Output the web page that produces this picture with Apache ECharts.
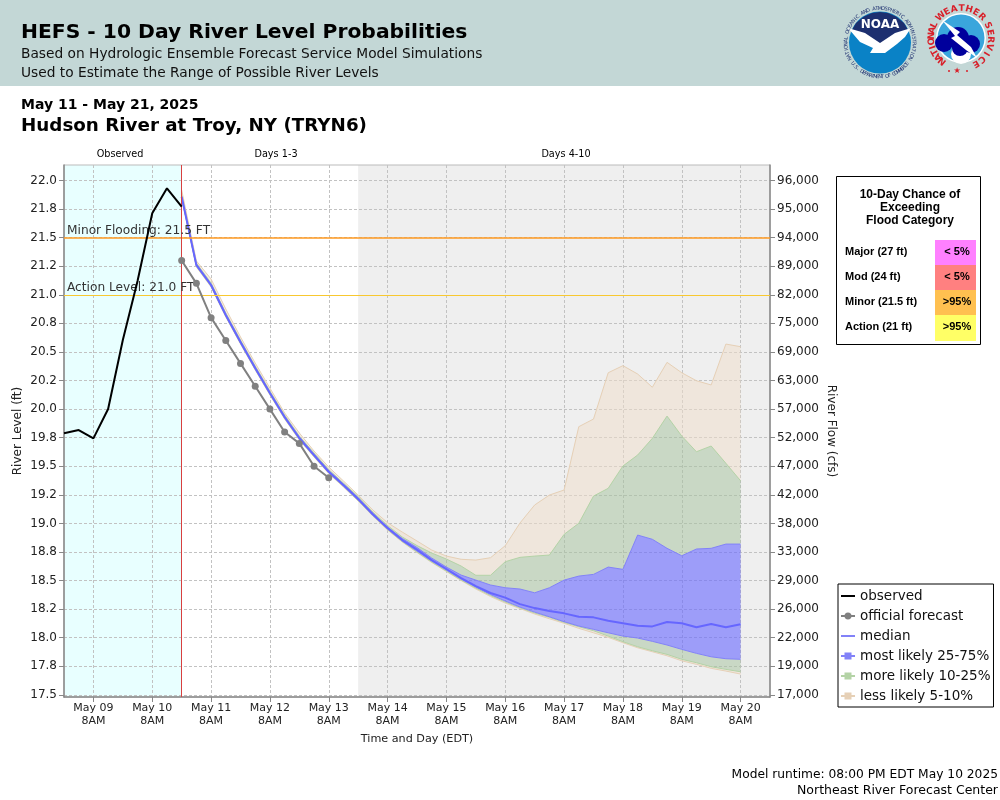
<!DOCTYPE html>
<html>
<head>
<meta charset="utf-8">
<title>HEFS - 10 Day River Level Probabilities</title>
<script src="https://cdn.jsdelivr.net/npm/echarts@6/dist/echarts.min.js"></script>
<style>
html, body { margin: 0; padding: 0; background: #fff; }
#main { width: 1000px; height: 800px; }
</style>
</head>
<body>
<div id="main"></div>
<script>
// hours are counted from May 09 8AM, one category every 6 hours
var hourCategories = ['-12', '-6', '0', '6', '12', '18', '24', '30', '36', '42', '48', '54', '60', '66', '72', '78', '84', '90', '96', '102', '108', '114', '120', '126', '132', '138', '144', '150', '156', '162', '168', '174', '180', '186', '192', '198', '204', '210', '216', '222', '228', '234', '240', '246', '252', '258', '264', '270', '276'];
var tickHours = ['0', '24', '48', '72', '96', '120', '144', '168', '192', '216', '240', '264'];
var tickDays = ['May 09', 'May 10', 'May 11', 'May 12', 'May 13', 'May 14', 'May 15', 'May 16', 'May 17', 'May 18', 'May 19', 'May 20'];

var levelTicks = [17.5, 17.75, 18, 18.25, 18.5, 18.75, 19, 19.25, 19.5, 19.75, 20, 20.25, 20.5, 20.75, 21, 21.25, 21.5, 21.75, 22];
var levelLabels = ['17.5', '17.8', '18.0', '18.2', '18.5', '18.8', '19.0', '19.2', '19.5', '19.8', '20.0', '20.2', '20.5', '20.8', '21.0', '21.2', '21.5', '21.8', '22.0'];
var flowLabels = ['17,000', '19,000', '22,000', '26,000', '29,000', '33,000', '38,000', '42,000', '47,000', '52,000', '57,000', '63,000', '69,000', '75,000', '82,000', '89,000', '94,000', '95,000', '96,000'];

var observedHours = ['-12', '-6', '0', '6', '12', '18', '24', '30', '36'];
var observed = [19.788, 19.817, 19.744, 20.001, 20.604, 21.121, 21.713, 21.932, 21.771];

var officialHours = ['36', '42', '48', '54', '60', '66', '72', '78', '84', '90', '96'];
var official = [21.3, 21.1, 20.8, 20.6, 20.4, 20.2, 20.0, 19.8, 19.7, 19.5, 19.4];

var ensembleHours = ['36', '42', '48', '54', '60', '66', '72', '78', '84', '90', '96', '102', '108', '114', '120', '126', '132', '138', '144', '150', '156', '162', '168', '174', '180', '186', '192', '198', '204', '210', '216', '222', '228', '234', '240', '246', '252', '258', '264'];
var median = [21.858, 21.261, 21.086, 20.823, 20.587, 20.359, 20.141, 19.931, 19.747, 19.598, 19.452, 19.336, 19.213, 19.078, 18.959, 18.854, 18.771, 18.679, 18.601, 18.522, 18.452, 18.391, 18.351, 18.294, 18.259, 18.233, 18.213, 18.183, 18.178, 18.148, 18.126, 18.105, 18.099, 18.137, 18.126, 18.091, 18.119, 18.091, 18.117];
var p5 = [21.847, 21.243, 21.068, 20.806, 20.569, 20.342, 20.123, 19.913, 19.729, 19.581, 19.436, 19.318, 19.196, 19.064, 18.942, 18.837, 18.745, 18.658, 18.579, 18.500, 18.426, 18.360, 18.303, 18.255, 18.207, 18.166, 18.126, 18.082, 18.043, 18.003, 17.956, 17.912, 17.877, 17.842, 17.798, 17.767, 17.732, 17.708, 17.682];
var p10 = [21.849, 21.248, 21.073, 20.810, 20.574, 20.346, 20.128, 19.918, 19.734, 19.585, 19.441, 19.323, 19.200, 19.069, 18.946, 18.841, 18.749, 18.662, 18.583, 18.504, 18.434, 18.369, 18.312, 18.262, 18.216, 18.178, 18.134, 18.096, 18.061, 18.014, 17.965, 17.921, 17.886, 17.854, 17.811, 17.781, 17.746, 17.723, 17.702];
var p25 = [21.851, 21.252, 21.077, 20.814, 20.578, 20.351, 20.132, 19.922, 19.738, 19.589, 19.443, 19.327, 19.204, 19.073, 18.951, 18.846, 18.758, 18.671, 18.592, 18.513, 18.443, 18.378, 18.321, 18.268, 18.224, 18.183, 18.140, 18.102, 18.073, 18.043, 18.014, 17.997, 17.968, 17.936, 17.898, 17.863, 17.833, 17.816, 17.811];
var p75 = [21.869, 21.269, 21.094, 20.832, 20.596, 20.368, 20.149, 19.939, 19.756, 19.607, 19.463, 19.344, 19.226, 19.091, 18.968, 18.868, 18.789, 18.697, 18.618, 18.548, 18.504, 18.461, 18.437, 18.426, 18.393, 18.437, 18.504, 18.539, 18.554, 18.618, 18.598, 18.898, 18.861, 18.782, 18.717, 18.776, 18.782, 18.819, 18.819];
var p90 = [21.891, 21.278, 21.103, 20.841, 20.604, 20.377, 20.158, 19.948, 19.764, 19.616, 19.471, 19.353, 19.235, 19.099, 18.981, 18.881, 18.806, 18.741, 18.688, 18.627, 18.546, 18.546, 18.665, 18.703, 18.714, 18.723, 18.904, 19.001, 19.239, 19.307, 19.502, 19.598, 19.744, 19.939, 19.764, 19.627, 19.677, 19.526, 19.373];
var p95 = [21.917, 21.296, 21.138, 20.876, 20.631, 20.403, 20.184, 19.966, 19.791, 19.633, 19.493, 19.371, 19.248, 19.117, 19.006, 18.924, 18.846, 18.767, 18.714, 18.686, 18.679, 18.700, 18.805, 19.003, 19.161, 19.248, 19.292, 19.846, 19.913, 20.318, 20.380, 20.307, 20.191, 20.409, 20.318, 20.248, 20.211, 20.569, 20.546];

var floodNames = ['Major (27 ft)', 'Mod (24 ft)', 'Minor (21.5 ft)', 'Action (21 ft)'];
var floodChance = ['< 5%', '< 5%', '>95%', '>95%'];
var floodColors = ['#ff80ff', '#ff8080', '#ffc050', '#ffff66'];

var minorLevel = 21.5;
var actionLevel = 21.0;
var observedEnd = '36';
var shortRangeEnd = '108';

var FONT = 'DejaVu Sans';
var TICK_TEXT = '#222';
var GRID_LINE = { color: '#c2c2c2', type: [3, 2], width: 1 };

function pairs(xs, ys) {
	return xs.map(function(x, i) { return [x, ys[i]]; });
}

function isDayTick(index, value) {
	return tickHours.indexOf(value) >= 0;
}

// stacked piece between two percentile curves
function band(name, lower, upper, fill, edge) {
	return {
		name: name,
		type: 'line',
		stack: 'ensemble',
		symbol: 'none',
		silent: true,
		z: 3,
		lineStyle: { color: edge, width: 1 },
		itemStyle: { color: edge },
		areaStyle: { color: fill, opacity: 1 },
		data: pairs(ensembleHours, upper.map(function(v, i) { return +(v - lower[i]).toFixed(3); }))
	};
}

var TAN_FILL = 'rgba(239,221,201,0.5)', TAN_EDGE = '#e6d0b6';
var GREEN_FILL = 'rgba(163,193,155,0.5)', GREEN_EDGE = '#b4d3a6';
var BLUE_FILL = 'rgba(102,102,255,0.6)', BLUE_EDGE = '#8282f8';

var series = [
	{
		name: 'background',
		type: 'line',
		z: -1,
		silent: true,
		data: [],
		markArea: {
			z: -1,
			silent: true,
			data: [
				[{ xAxis: hourCategories[0], itemStyle: { color: '#e8ffff' } }, { xAxis: observedEnd }],
				[{ xAxis: shortRangeEnd, itemStyle: { color: '#efefef' } }, { xAxis: hourCategories[hourCategories.length - 1] }]
			]
		}
	},
	{
		name: 'levels',
		type: 'line',
		z: 2,
		silent: true,
		data: [],
		markLine: {
			silent: true,
			symbol: 'none',
			animation: false,
			data: [
				{ yAxis: minorLevel, lineStyle: { color: '#ff9a20', width: 1.5, type: 'solid' },
					label: { formatter: 'Minor Flooding: 21.5 FT', position: 'insideStartTop', distance: [3, 1], color: '#333', fontFamily: FONT, fontSize: 12.2 } },
				{ yAxis: actionLevel, lineStyle: { color: '#f8c830', width: 1, type: 'solid' },
					label: { formatter: 'Action Level: 21.0 FT', position: 'insideStartTop', distance: [3, 1], color: '#333', fontFamily: FONT, fontSize: 12.2 } },
				{ xAxis: observedEnd, lineStyle: { color: '#d84040', width: 1, type: 'solid' }, label: { show: false } }
			]
		}
	},
	{
		name: 'base',
		type: 'line',
		stack: 'ensemble',
		symbol: 'none',
		silent: true,
		z: 3,
		lineStyle: { color: TAN_EDGE, width: 1 },
		data: pairs(ensembleHours, p5)
	},
	band('less likely 5-10%', p5, p10, TAN_FILL, GREEN_EDGE),
	band('more likely 10-25%', p10, p25, GREEN_FILL, BLUE_EDGE),
	band('most likely 25-75%', p25, p75, BLUE_FILL, BLUE_EDGE),
	band('more likely 10-25%', p75, p90, GREEN_FILL, GREEN_EDGE),
	band('less likely 5-10%', p90, p95, TAN_FILL, TAN_EDGE),
	{
		name: 'median',
		type: 'line',
		symbol: 'none',
		z: 4,
		lineStyle: { color: '#6666ff', width: 2 },
		itemStyle: { color: '#6666ff' },
		data: pairs(ensembleHours, median)
	},
	{
		name: 'official forecast',
		type: 'line',
		symbol: 'circle',
		symbolSize: 7,
		z: 5,
		lineStyle: { color: '#808080', width: 2 },
		itemStyle: { color: '#808080' },
		data: pairs(officialHours, official)
	},
	{
		name: 'observed',
		type: 'line',
		symbol: 'none',
		z: 5,
		lineStyle: { color: '#000', width: 2 },
		itemStyle: { color: '#000' },
		data: pairs(observedHours, observed)
	}
];

// tiny corner dots keep the icon box, so a plain line does not get stretched
var ICON_BOX = 'M0 0h.01v.01h-.01z M14 14h.01v.01h-.01z ';
var ICON_LINE = 'M0 6h14v2H0z';
var legendData = [
	{ name: 'observed', icon: 'path://' + ICON_BOX + ICON_LINE, itemStyle: { color: '#000' } },
	{ name: 'official forecast', icon: 'path://' + ICON_BOX + ICON_LINE + ' M7 3.5a3.5 3.5 0 1 1 -.01 0z', itemStyle: { color: '#808080' } },
	{ name: 'median', icon: 'path://' + ICON_BOX + ICON_LINE, itemStyle: { color: '#8282f8' } },
	{ name: 'most likely 25-75%', icon: 'path://' + ICON_BOX + ICON_LINE + ' M3.5 3.5h7v7h-7z', itemStyle: { color: '#8282f8' } },
	{ name: 'more likely 10-25%', icon: 'path://' + ICON_BOX + ICON_LINE + ' M3.5 3.5h7v7h-7z', itemStyle: { color: '#b4d3a6' } },
	{ name: 'less likely 5-10%', icon: 'path://' + ICON_BOX + ICON_LINE + ' M3.5 3.5h7v7h-7z', itemStyle: { color: '#e6d0b6' } }
];

function text(str, x, y, size, opts) {
	opts = opts || {};
	return {
		type: 'text',
		x: x,
		y: y,
		rotation: opts.rotation || 0,
		silent: true,
		z: opts.z || 20,
		style: {
			text: str,
			fill: opts.color || '#000',
			font: (opts.bold ? 'bold ' : '') + size + 'px "' + (opts.family || FONT) + '"',
			textAlign: opts.align || 'left',
			textVerticalAlign: 'middle'
		}
	};
}

// one letter at a time round a circle, angles in degrees clockwise from the top
function ringText(str, cx, cy, r, fromDeg, toDeg, size, color, bold, lower) {
	var out = [];
	for (var i = 0; i < str.length; i++) {
		var deg = fromDeg + (toDeg - fromDeg) * i / (str.length - 1);
		var a = deg * Math.PI / 180;
		out.push(text(str.charAt(i), cx + r * Math.sin(a), cy - r * Math.cos(a), size, {
			color: color,
			bold: bold,
			align: 'center',
			rotation: lower ? Math.PI - a : -a
		}));
	}
	return out;
}

function shape(type, shapeDef, fill, z) {
	return { type: type, silent: true, z: z || 10, shape: shapeDef, style: { fill: fill } };
}

var graphics = [
	shape('rect', { x: 0, y: 0, width: 1000, height: 86 }, '#c3d7d6', 1),
	text('HEFS - 10 Day River Level Probabilities', 21, 33, 20.3, { bold: true }),
	text('Based on Hydrologic Ensemble Forecast Service Model Simulations', 21, 54, 13.75, { color: '#111' }),
	text('Used to Estimate the Range of Possible River Levels', 21, 73, 13.75, { color: '#111' }),
	text('May 11 - May 21, 2025', 21, 105, 14, { bold: true }),
	text('Hudson River at Troy, NY (TRYN6)', 21, 126, 18.3, { bold: true }),
	text('Observed', 120, 154, 9.7, { align: 'center' }),
	text('Days 1-3', 276, 154, 9.7, { align: 'center' }),
	text('Days 4-10', 566, 154, 9.7, { align: 'center' }),
	text('Model runtime: 08:00 PM EDT May 10 2025', 998, 775, 12.25, { align: 'right' }),
	text('Northeast River Forecast Center', 998, 791, 12.5, { align: 'right' }),

	// flood category table
	{ type: 'rect', silent: true, z: 10, shape: { x: 836.5, y: 176.5, width: 144, height: 168 }, style: { fill: '#fff', stroke: '#000', lineWidth: 1 } },
	text('10-Day Chance of', 910, 195, 12, { bold: true, align: 'center', family: 'Liberation Sans' }),
	text('Exceeding', 910, 208, 12, { bold: true, align: 'center', family: 'Liberation Sans' }),
	text('Flood Category', 910, 221, 12, { bold: true, align: 'center', family: 'Liberation Sans' })
];

floodNames.forEach(function(name, i) {
	var top = 240 + i * 25;
	graphics.push(shape('rect', { x: 935, y: top, width: 41, height: i === 3 ? 26 : 25 }, floodColors[i], 11));
	graphics.push(text(name, 845, top + 11.5, 11, { bold: true, family: 'Liberation Sans' }));
	graphics.push(text(floodChance[i], 957, top + 11.5, 11, { bold: true, family: 'Liberation Sans', align: 'center' }));
});

// NOAA seal
graphics.push(shape('circle', { cx: 880, cy: 42.5, r: 31 }, '#0a82c6'));
graphics.push(shape('polygon', { points: [[856, 23], [864, 16.5], [872, 13], [880, 12], [888, 13], [896, 16.5], [904, 23], [908, 30], [880, 46], [852, 30]] }, '#1d2f6f', 11));
graphics.push(shape('polygon', { points: [[848, 28], [865, 33], [880, 43], [895, 33], [911, 28], [905, 37], [897, 44], [885, 53], [870, 53], [873, 48], [860, 42]] }, '#fff', 12));
graphics.push(text('NOAA', 880, 25, 12, { bold: true, color: '#fff', align: 'center' }));
graphics = graphics.concat(ringText('NATIONAL OCEANIC AND ATMOSPHERIC ADMINISTRATION', 880, 42.5, 34, -118, 118, 5, '#1d2f6f'));
graphics = graphics.concat(ringText('U.S. DEPARTMENT OF COMMERCE', 880, 42.5, 34.5, 232, 128, 5, '#1d2f6f', false, true));

// NWS seal
graphics.push(shape('circle', { cx: 961, cy: 38, r: 25 }, '#ffffff'));
graphics.push(shape('circle', { cx: 961, cy: 38, r: 23.5 }, '#3aa6dc', 11));
graphics.push(shape('circle', { cx: 961, cy: 54, r: 10 }, '#ffffff', 11));
graphics.push(shape('circle', { cx: 944, cy: 43, r: 9 }, '#00009c', 12));
graphics.push(shape('circle', { cx: 958, cy: 38, r: 11 }, '#00009c', 12));
graphics.push(shape('circle', { cx: 971, cy: 44, r: 9 }, '#00009c', 12));
graphics.push(shape('circle', { cx: 960, cy: 48, r: 8 }, '#00009c', 12));
graphics.push(shape('polygon', { points: [[942, 20], [960, 32], [957, 35], [971, 47], [977, 58], [966, 50], [951, 38], [955, 36]] }, '#fff', 13));
graphics = graphics.concat(ringText('NATIONAL', 961, 38, 29.5, -141, -64, 9, '#d8202a', true));
graphics = graphics.concat(ringText('WEATHER', 961, 38, 29.5, -43, 45, 9, '#d8202a', true));
graphics = graphics.concat(ringText('SERVICE', 961, 38, 29.5, 65, 150, 9, '#d8202a', true));
graphics.push(text('\u2605', 957, 71, 8, { color: '#d8202a', align: 'center' }));
graphics.push(shape('circle', { cx: 949, cy: 71, r: 1 }, '#d8202a'));
graphics.push(shape('circle', { cx: 967, cy: 71, r: 1 }, '#d8202a'));

var option = {
	animation: false,
	backgroundColor: '#fff',
	textStyle: { fontFamily: FONT },
	graphic: { elements: graphics },
	grid: {
		left: 64,
		top: 165,
		width: 706,
		height: 532,
		show: true,
		backgroundColor: 'transparent',
		borderColor: '#bbb',
		borderWidth: 1
	},
	legend: {
		left: 838,
		top: 584,
		orient: 'vertical',
		selectedMode: false,
		backgroundColor: '#fff',
		borderColor: '#000',
		borderWidth: 1,
		padding: [5, 3, 4, 3],
		itemWidth: 14,
		itemHeight: 14,
		itemGap: 6,
		data: legendData,
		textStyle: { fontFamily: FONT, fontSize: 13.5, lineHeight: 14, color: '#111' }
	},
	xAxis: {
		type: 'category',
		boundaryGap: false,
		data: hourCategories,
		name: 'Time and Day (EDT)',
		nameLocation: 'middle',
		nameGap: 37,
		nameMoveOverlap: false,
		nameTextStyle: { fontFamily: FONT, fontSize: 11.2, color: TICK_TEXT },
		axisLine: { onZero: false, lineStyle: { color: '#888', width: 1.5 } },
		axisTick: { show: true, length: 5, lineStyle: { color: '#888' }, interval: isDayTick },
		axisLabel: {
			interval: isDayTick,
			margin: 5,
			fontFamily: FONT,
			fontSize: 11,
			lineHeight: 13,
			color: TICK_TEXT,
			formatter: function(v) { return tickDays[tickHours.indexOf(v)] + '\n8AM'; }
		},
		splitLine: { show: true, interval: isDayTick, lineStyle: GRID_LINE }
	},
	yAxis: [
		{
			type: 'value',
			min: 17.4812,
			max: 22.1356,
			name: 'River Level (ft)',
			nameLocation: 'middle',
			nameGap: 40,
			nameMoveOverlap: false,
			nameRotate: 90,
			nameTextStyle: { fontFamily: FONT, fontSize: 12, color: TICK_TEXT },
			axisLine: { show: true, onZero: false, lineStyle: { color: '#888', width: 1.5 } },
			axisTick: { show: true, length: 5, lineStyle: { color: '#888' }, customValues: levelTicks },
			axisLabel: {
				customValues: levelTicks,
				margin: 7,
				fontFamily: FONT,
				fontSize: 12,
				color: TICK_TEXT,
				formatter: function(v) { return levelLabels[levelTicks.indexOf(v)]; }
			},
			splitLine: { show: true, lineStyle: GRID_LINE }
		},
		{
			type: 'value',
			position: 'right',
			min: 17.4812,
			max: 22.1356,
			name: 'River Flow (cfs)',
			nameLocation: 'middle',
			nameGap: 55,
			nameMoveOverlap: false,
			nameRotate: -90,
			nameTextStyle: { fontFamily: FONT, fontSize: 12, color: TICK_TEXT },
			axisLine: { show: true, onZero: false, lineStyle: { color: '#888', width: 1.5 } },
			axisTick: { show: true, length: 5, lineStyle: { color: '#888' }, customValues: levelTicks },
			axisLabel: {
				customValues: levelTicks,
				margin: 7,
				fontFamily: FONT,
				fontSize: 12,
				color: TICK_TEXT,
				formatter: function(v) { return flowLabels[levelTicks.indexOf(v)]; }
			},
			splitLine: { show: false }
		}
	],
	series: series
};

var myChart = echarts.init(document.getElementById('main'));
myChart.setOption(option);
</script>
</body>
</html>
